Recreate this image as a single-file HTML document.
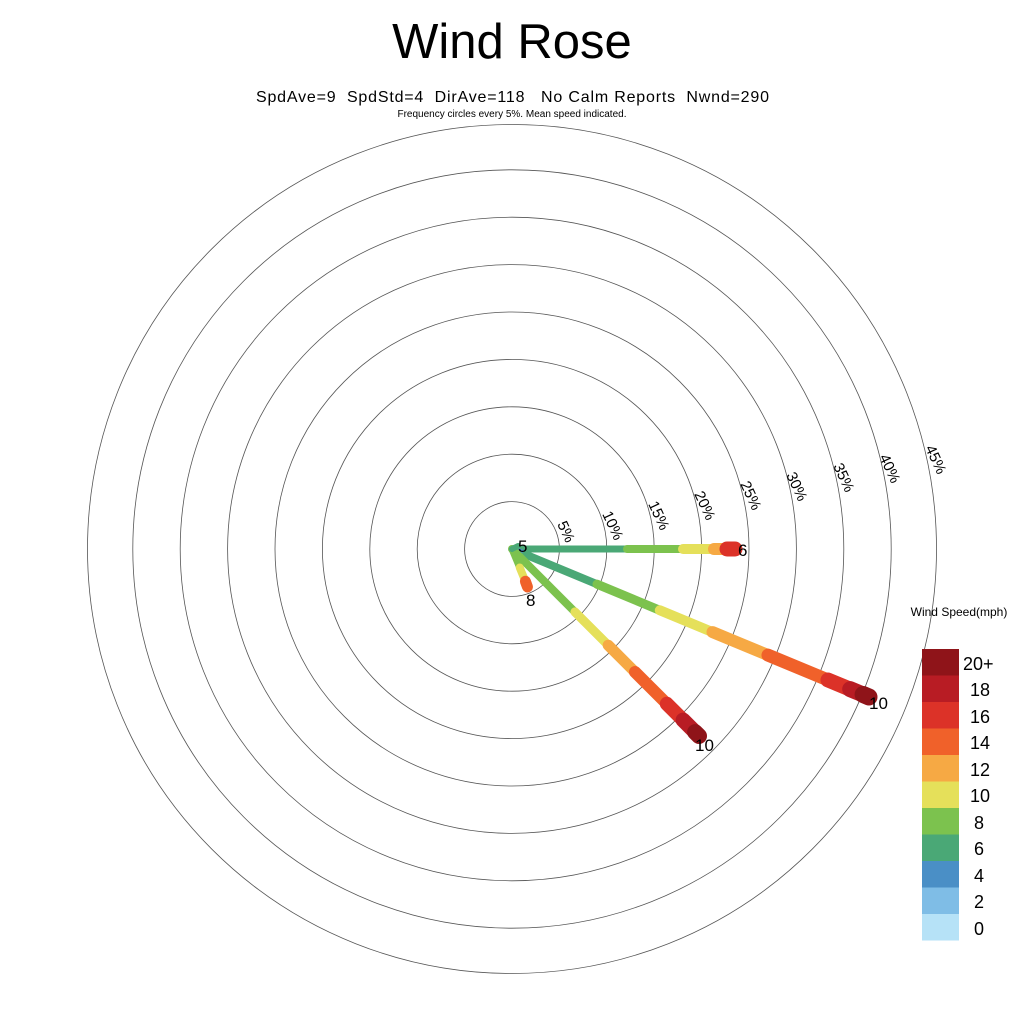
<!DOCTYPE html>
<html><head><meta charset="utf-8"><style>
html,body{margin:0;padding:0;background:#fff;}
svg{display:block;font-family:"Liberation Sans",sans-serif;}
</style></head><body>
<svg width="1024" height="1024" viewBox="0 0 1024 1024" xmlns="http://www.w3.org/2000/svg">
<rect width="1024" height="1024" fill="#fff"/>
<text x="512" y="58" font-size="49" text-anchor="middle">Wind Rose</text>
<text x="256" y="102" font-size="16" textLength="513" lengthAdjust="spacing" xml:space="preserve" style="white-space:pre">SpdAve=9  SpdStd=4  DirAve=118   No Calm Reports  Nwnd=290</text>
<text x="512" y="117" font-size="10" text-anchor="middle">Frequency circles every 5%. Mean speed indicated.</text>
<g fill="none" stroke="#555" stroke-width="0.8">
<circle cx="512" cy="549" r="47.4"/><circle cx="512" cy="549" r="94.8"/><circle cx="512" cy="549" r="142.2"/>
<circle cx="512" cy="549" r="189.6"/><circle cx="512" cy="549" r="237"/><circle cx="512" cy="549" r="284.4"/>
<circle cx="512" cy="549" r="331.8"/><circle cx="512" cy="549" r="379.2"/><circle cx="512" cy="549" r="424.5"/>
</g>
<g font-size="15">
<text transform="translate(557,524) rotate(65)">5%</text>
<text transform="translate(602,514) rotate(65)">10%</text>
<text transform="translate(648,504) rotate(65)">15%</text>
<text transform="translate(694,494) rotate(65)">20%</text>
<text transform="translate(740,484) rotate(65)">25%</text>
<text transform="translate(786,475) rotate(65)">30%</text>
<text transform="translate(833,466) rotate(65)">35%</text>
<text transform="translate(879,457) rotate(65)">40%</text>
<text transform="translate(925,448) rotate(65)">45%</text>
</g>
<g stroke-linecap="round" fill="none">
<line x1="512" y1="549" x2="627" y2="549" stroke="#4aa876" stroke-width="7"/>
<line x1="627" y1="549" x2="683" y2="549" stroke="#7cc24e" stroke-width="8"/>
<line x1="683" y1="549" x2="714" y2="549" stroke="#e5e05a" stroke-width="10"/>
<line x1="714" y1="549" x2="727" y2="549" stroke="#f6a944" stroke-width="12"/>
<line x1="727" y1="549" x2="735" y2="549" stroke="#dc3228" stroke-width="15"/>
<line x1="512" y1="549" x2="525.9" y2="554.7" stroke="#4a8fc6" stroke-width="7"/>
<line x1="525.9" y1="554.7" x2="597" y2="584.2" stroke="#4aa876" stroke-width="8"/>
<line x1="597" y1="584.2" x2="659.8" y2="610.3" stroke="#7cc24e" stroke-width="9"/>
<line x1="659.8" y1="610.3" x2="712.5" y2="632.1" stroke="#e5e05a" stroke-width="10"/>
<line x1="712.5" y1="632.1" x2="768" y2="655.1" stroke="#f6a944" stroke-width="12"/>
<line x1="768" y1="655.1" x2="828" y2="680" stroke="#f0612a" stroke-width="13"/>
<line x1="828" y1="680" x2="850.2" y2="689.2" stroke="#dc3228" stroke-width="15"/>
<line x1="850.2" y1="689.2" x2="863.1" y2="694.5" stroke="#b81c24" stroke-width="16"/>
<line x1="863.1" y1="694.5" x2="869" y2="697" stroke="#8f1419" stroke-width="17"/>
<line x1="512" y1="549" x2="574.9" y2="611.9" stroke="#7cc24e" stroke-width="8"/>
<line x1="574.9" y1="611.9" x2="608.2" y2="645.2" stroke="#e5e05a" stroke-width="9"/>
<line x1="608.2" y1="645.2" x2="635" y2="672" stroke="#f6a944" stroke-width="11"/>
<line x1="635" y1="672" x2="666.8" y2="703.8" stroke="#f0612a" stroke-width="12"/>
<line x1="666.8" y1="703.8" x2="683.1" y2="720.1" stroke="#dc3228" stroke-width="14"/>
<line x1="683.1" y1="720.1" x2="695.1" y2="732.1" stroke="#b81c24" stroke-width="15"/>
<line x1="695.1" y1="732.1" x2="699" y2="736" stroke="#8f1419" stroke-width="16"/>
<line x1="512" y1="549" x2="519.7" y2="567.5" stroke="#7cc24e" stroke-width="7"/>
<line x1="519.7" y1="567.5" x2="525.4" y2="581.3" stroke="#e5e05a" stroke-width="8"/>
<line x1="525.4" y1="581.3" x2="527.5" y2="587" stroke="#f0612a" stroke-width="11"/>
<line x1="512" y1="549" x2="518" y2="546" stroke="#4aa876" stroke-width="6"/>
</g>
<g font-size="17">
<text x="518" y="552">5</text>
<text x="738" y="556">6</text>
<text x="526" y="606">8</text>
<text x="869" y="709">10</text>
<text x="695" y="751">10</text>
</g>
<text x="959" y="616" font-size="12" text-anchor="middle">Wind Speed(mph)</text>
<g>
<rect x="922" y="649" width="37" height="27" fill="#8f1419"/>
<rect x="922" y="675.5" width="37" height="27" fill="#b81c24"/>
<rect x="922" y="702" width="37" height="27" fill="#dc3228"/>
<rect x="922" y="728.5" width="37" height="27" fill="#f0612a"/>
<rect x="922" y="755" width="37" height="27" fill="#f6a944"/>
<rect x="922" y="781.5" width="37" height="27" fill="#e5e05a"/>
<rect x="922" y="808" width="37" height="27" fill="#7cc24e"/>
<rect x="922" y="834.5" width="37" height="27" fill="#4aa876"/>
<rect x="922" y="861" width="37" height="27" fill="#4a8fc6"/>
<rect x="922" y="887.5" width="37" height="27" fill="#7fbde6"/>
<rect x="922" y="914" width="37" height="26.5" fill="#b6e2f7"/>
</g>
<g font-size="18">
<text x="963" y="670">20+</text>
<text x="970" y="696">18</text>
<text x="970" y="723">16</text>
<text x="970" y="749">14</text>
<text x="970" y="776">12</text>
<text x="970" y="802">10</text>
<text x="974" y="829">8</text>
<text x="974" y="855">6</text>
<text x="974" y="882">4</text>
<text x="974" y="908">2</text>
<text x="974" y="935">0</text>
</g>
</svg>
</body></html>
